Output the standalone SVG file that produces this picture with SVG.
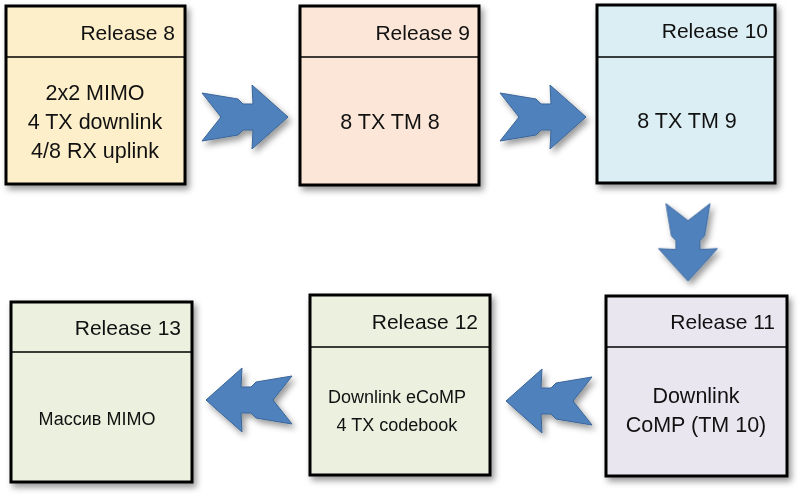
<svg xmlns="http://www.w3.org/2000/svg" width="800" height="496" viewBox="0 0 800 496">
<style>
.box{stroke:#000;stroke-width:3}
.div{stroke:#000;stroke-width:1.5}
.hd{font-family:"Liberation Sans",Arial,sans-serif;font-size:21px;fill:#111;text-anchor:end}
.bd{font-family:"Liberation Sans",Arial,sans-serif;font-size:21.5px;fill:#111;text-anchor:middle}
.sm{font-family:"Liberation Sans",Arial,sans-serif;font-size:18px;fill:#111;text-anchor:middle}
.arr{fill:#4F81BD;stroke:#3A6597;stroke-width:1;stroke-linejoin:miter}
</style>
<defs>
<filter id="sh" x="-20%" y="-20%" width="150%" height="150%">
<feDropShadow dx="3" dy="4" stdDeviation="3" flood-color="#000" flood-opacity="0.4"/>
</filter>
<path id="ar" d="M-86,-24 L-50,-18 L-45,-13 L-35,-13 L-36,-32 L0,0 L-36,32 L-35,13 L-45,13 L-50,18 L-86,24 L-67,0 Z"/>
</defs>
<rect width="800" height="496" fill="#fff"/>
<g id="connectors" filter="url(#sh)">
<use href="#ar" class="arr" transform="translate(288,117)"/>
<use href="#ar" class="arr" transform="translate(586,117)"/>
<use href="#ar" class="arr" transform="translate(688,281) rotate(90) scale(0.9,0.92)"/>
<use href="#ar" class="arr" transform="translate(506,401) scale(-1,1)"/>
<use href="#ar" class="arr" transform="translate(206,400) scale(-1,1)"/>
</g>
<g id="r8">
<rect class="box" x="6" y="6" width="179" height="178" fill="#FDEFC9" filter="url(#sh)"/>
<line class="div" x1="6" y1="57" x2="185" y2="57"/>
<text class="hd" x="175" y="40">Release 8</text>
<text class="bd" x="95" y="100">2x2 MIMO</text>
<text class="bd" x="95" y="129">4 TX downlink</text>
<text class="bd" x="95" y="158">4/8 RX uplink</text>
</g>
<g id="r9">
<rect class="box" x="300" y="6" width="179" height="179" fill="#FBE6D8" filter="url(#sh)"/>
<line class="div" x1="300" y1="57" x2="479" y2="57"/>
<text class="hd" x="470" y="40">Release 9</text>
<text class="bd" x="390" y="129">8 TX TM 8</text>
</g>
<g id="r10">
<rect class="box" x="597" y="5" width="178" height="178" fill="#DBEEF3" filter="url(#sh)"/>
<line class="div" x1="597" y1="57" x2="775" y2="57"/>
<text class="hd" x="768" y="38">Release 10</text>
<text class="bd" x="687" y="128">8 TX TM 9</text>
</g>
<g id="r11">
<rect class="box" x="606" y="296" width="181" height="180" fill="#E9E6EF" filter="url(#sh)"/>
<line class="div" x1="606" y1="347" x2="787" y2="347"/>
<text class="hd" x="775" y="329">Release 11</text>
<text class="bd" x="696" y="403">Downlink</text>
<text class="bd" x="696" y="432">CoMP (TM 10)</text>
</g>
<g id="r12">
<rect class="box" x="310" y="295" width="180" height="180" fill="#EBF0DF" filter="url(#sh)"/>
<line class="div" x1="310" y1="347" x2="490" y2="347"/>
<text class="hd" x="478" y="329">Release 12</text>
<text class="sm" x="397" y="403">Downlink eCoMP</text>
<text class="sm" x="397" y="431">4 TX codebook</text>
</g>
<g id="r13">
<rect class="box" x="11" y="302" width="181" height="180" fill="#EBF0DF" filter="url(#sh)"/>
<line class="div" x1="11" y1="352" x2="192" y2="352"/>
<text class="hd" x="181" y="335">Release 13</text>
<text class="sm" x="97" y="425">Массив MIMO</text>
</g>
</svg>
